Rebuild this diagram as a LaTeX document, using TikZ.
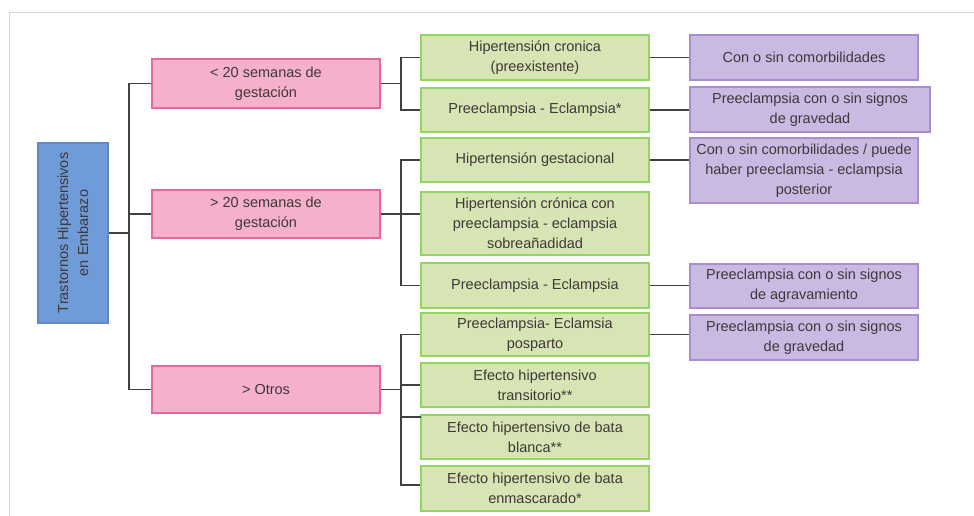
\documentclass[tikz,border=0pt]{standalone}
\usepackage{fontspec}
\setmainfont{Liberation Sans}
\definecolor{txt}{HTML}{3E3838}
\definecolor{lnc}{HTML}{404040}
\definecolor{bluef}{HTML}{6F9BD8}
\definecolor{blued}{HTML}{5E89C6}
\definecolor{pinkf}{HTML}{F5B0CB}
\definecolor{pinkd}{HTML}{E6689E}
\definecolor{greenf}{HTML}{D7E4B3}
\definecolor{greend}{HTML}{92D661}
\definecolor{purpf}{HTML}{CAB9E2}
\definecolor{purpd}{HTML}{AA8DCC}
\definecolor{frm}{HTML}{D8D8D8}
\begin{document}
\begin{tikzpicture}[x=1pt,y=-1pt,
  every node/.style={font=\fontsize{14.5}{20}\selectfont, text=txt, align=center, inner sep=0pt, line width=1.5pt},
  rootbox/.style={fill=bluef, draw=blued, minimum width=180pt, minimum height=70pt, rotate=90},
  pinkbox/.style={fill=pinkf, draw=pinkd, minimum width=228pt},
  greenbox/.style={fill=greenf, draw=greend, minimum width=228pt},
  purpbox/.style={fill=purpf, draw=purpd, minimum width=228pt},
  conn/.style={draw=lnc, line width=1.4pt}]
\useasboundingbox (0,0) rectangle (974,516);
\fill[white] (0,0) rectangle (974,516);
\draw[frm, line width=1pt] (974,13) -- (9,13) -- (9,516);

% root
\node[rootbox] (root) at (73,233) {Trastornos Hipertensivos\\en Embarazo};

% pink
\node[pinkbox, minimum height=49pt] (p1) at (266,83.5) {< 20 semanas de\\gestación};
\node[pinkbox, minimum height=48pt] (p2) at (266,214) {> 20 semanas de\\gestación};
\node[pinkbox, minimum height=47pt] (p3) at (266,389.5) {> Otros};

% green
\node[greenbox, minimum height=45pt] (g1) at (535,57.5) {Hipertensión cronica\\(preexistente)};
\node[greenbox, minimum height=44pt] (g2) at (535,110) {Preeclampsia - Eclampsia*};
\node[greenbox, minimum height=44pt] (g3) at (535,160) {Hipertensión gestacional};
\node[greenbox, minimum height=63pt] (g4) at (535,223.5) {Hipertensión crónica con\\preeclampsia - eclampsia\\sobreañadidad};
\node[greenbox, minimum height=45pt] (g5) at (535,285.5) {Preeclampsia - Eclampsia};
\node[greenbox, minimum height=43pt] (g6) at (535,334.5) {Preeclampsia- Eclamsia\\posparto};
\node[greenbox, minimum height=44pt] (g7) at (535,385) {Efecto hipertensivo\\transitorio**};
\node[greenbox, minimum height=44pt] (g8) at (535,437) {Efecto hipertensivo de bata\\blanca**};
\node[greenbox, minimum height=45pt] (g9) at (535,488.5) {Efecto hipertensivo de bata\\enmascarado*};

% purple
\node[purpbox, minimum height=45pt] (q1) at (804,57.5) {Con o sin comorbilidades};
\node[purpbox, minimum width=240pt, minimum height=45pt] (q2) at (810,109.5) {Preeclampsia con o sin signos\\de gravedad};
\node[purpbox, minimum height=65pt] (q3) at (804,170.5) {Con o sin comorbilidades / puede\\haber preeclamsia - eclampsia\\posterior};
\node[purpbox, minimum height=44pt] (q4) at (804,286) {Preeclampsia con o sin signos\\de agravamiento};
\node[purpbox, minimum height=45pt] (q5) at (804,337.5) {Preeclampsia con o sin signos\\de gravedad};

% trunk
\coordinate (tA) at (129,83.5);
\coordinate (tB) at (129,389.5);
\draw[conn] (p1.west) -- (tA) -- (tB) -- (p3.west);
\draw[conn] (p2.west) -- (p2.west -| tA);
\draw[conn] (root.south) -- (root.south -| tA);

% group 1
\coordinate (b1) at (401,83.5);
\draw[conn] (p1.east) -- (b1);
\draw[conn] (g1.west) -- (g1.west -| b1) -- (g2.west -| b1) -- (g2.west);

% group 2
\coordinate (b2) at (401,214);
\draw[conn] (p2.east) -- (p2.east -| g4.west);
\draw[conn] (g3.west) -- (g3.west -| b2) -- (g5.west -| b2) -- (g5.west);

% group 3
\coordinate (b3) at (401,389.5);
\coordinate (g8c) at (421,417);
\draw[conn] (p3.east) -- (b3);
\draw[conn] (g6.west) -- (g6.west -| b3) -- (b3 |- 485,485) -- (g9.west |- 485,485);
\draw[conn] (g7.west) -- (g7.west -| b3);
\draw[conn] (g8c) -- (g8c -| b3);

% right connectors
\draw[conn] (g1.east) -- (g1.east -| q1.west);
\draw[conn] (g2.east) -- (g2.east -| q2.west);
\draw[conn] (g3.east) -- (g3.east -| q3.west);
\draw[conn] (g5.east) -- (g5.east -| q4.west);
\draw[conn] (g6.east) -- (g6.east -| q5.west);
\end{tikzpicture}
\end{document}
